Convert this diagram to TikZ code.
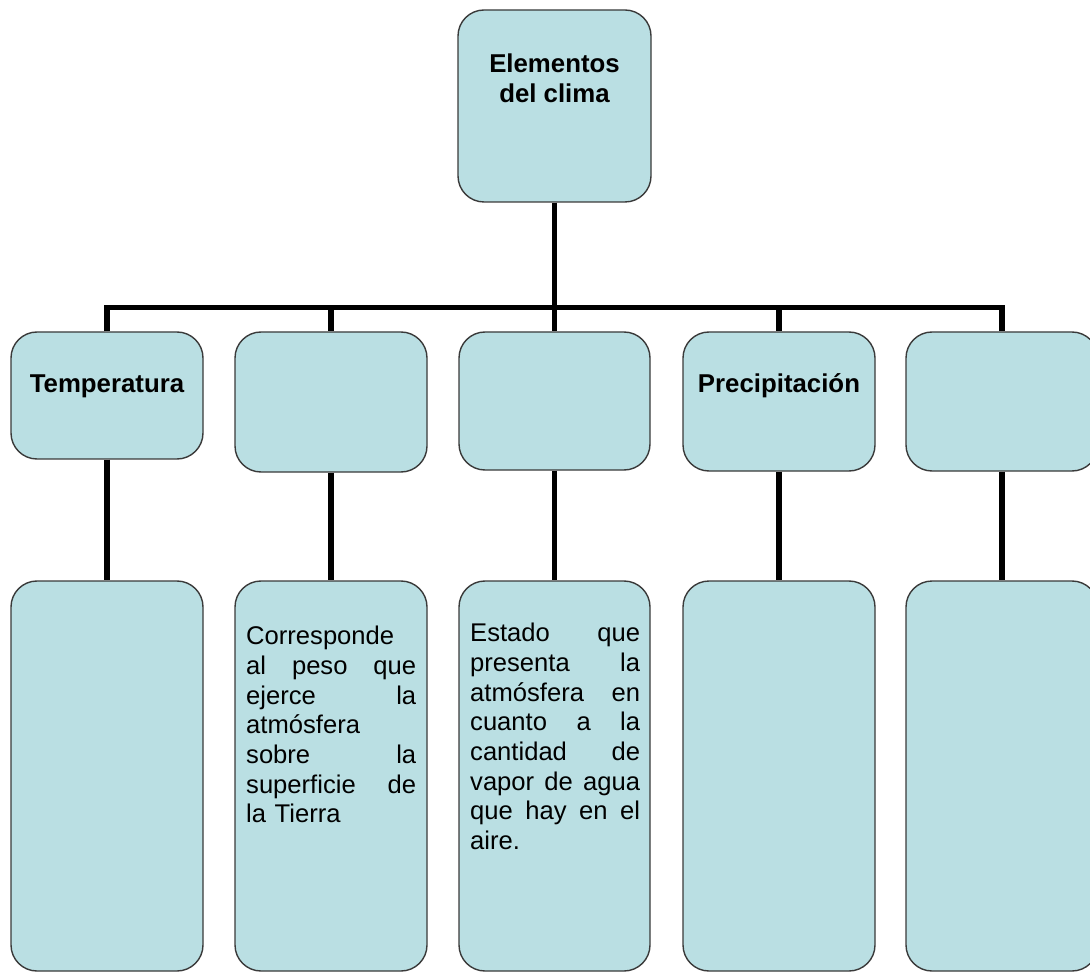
\documentclass[tikz,border=0pt]{standalone}
\usepackage{fontspec}
\setmainfont{Liberation Sans}
\definecolor{boxfill}{HTML}{BADFE3}
\definecolor{boxline}{HTML}{3A3A3A}
\newcommand{\jline}[1]{\leavevmode\hbox to 170pt{#1}}
\begin{document}
\begin{tikzpicture}[x=1pt,y=-1pt,
  box/.style={draw=boxline, line width=1.4pt, fill=boxfill, rounded corners=26pt, inner sep=0pt},
  conn/.style={line width=5.5pt, black, line join=miter},
  head/.style={font=\fontsize{25.8}{30}\selectfont\bfseries, anchor=base, inner sep=0pt, align=center},
  body/.style={font=\fontsize{25.6}{29.7}\selectfont, anchor=north west, inner sep=0pt, text width=170pt, align=left}]
\useasboundingbox (0,0) rectangle (1090,973);
% top box
\node[box, minimum width=193pt, minimum height=192pt] (t) at (554.5,106) {};
% level 2
\node[box, minimum width=192pt, minimum height=127pt] (a1) at (107,395.5) {};
\node[box, minimum width=192pt, minimum height=140pt] (a2) at (331,402) {};
\node[box, minimum width=191pt, minimum height=138pt] (a3) at (554.5,401) {};
\node[box, minimum width=192pt, minimum height=139pt] (a4) at (779,401.5) {};
\node[box, minimum width=192pt, minimum height=139pt] (a5) at (1002,401.5) {};
% level 3
\node[box, minimum width=192pt, minimum height=390pt] (b1) at (107,776) {};
\node[box, minimum width=192pt, minimum height=390pt] (b2) at (331,776) {};
\node[box, minimum width=191pt, minimum height=390pt] (b3) at (554.5,776) {};
\node[box, minimum width=192pt, minimum height=390pt] (b4) at (779,776) {};
\node[box, minimum width=192pt, minimum height=390pt] (b5) at (1002,776) {};
% bar
\coordinate (barL) at (107,307.5);
\draw[conn] (a1.north) -- (a1.north |- barL) -- (a5.north |- barL) -- (a5.north);
\draw[conn] (t.south) -- (t.south |- barL);
\draw[conn] (a2.north |- barL) -- (a2.north);
\draw[conn] (a3.north |- barL) -- (a3.north);
\draw[conn] (a4.north |- barL) -- (a4.north);
\foreach \i in {1,...,5}{\draw[conn] (a\i.south) -- (b\i.north);}
% texts
\node[head] (tt) at (554.5,103) {Elementos\\del clima};
\node[head] (ta1) at (107,393) {Temperatura};
\node[head] (ta4) at (779,393) {Precipitación};
\node[body] (tb2) at (246,626) {Corresponde\\
\jline{al\hfill peso\hfill que}\\
\jline{ejerce\hfill la}\\
atmósfera\\
\jline{sobre\hfill la}\\
\jline{superficie\hfill de}\\
la Tierra};
\node[body] (tb3) at (470,623) {\jline{Estado\hfill que}\\
\jline{presenta\hfill la}\\
\jline{atmósfera\hfill en}\\
\jline{cuanto\hfill a\hfill la}\\
\jline{cantidad\hfill de}\\
\jline{vapor\hfill de\hfill agua}\\
\jline{que\hfill hay\hfill en\hfill el}\\
aire.};
\end{tikzpicture}
\end{document}
